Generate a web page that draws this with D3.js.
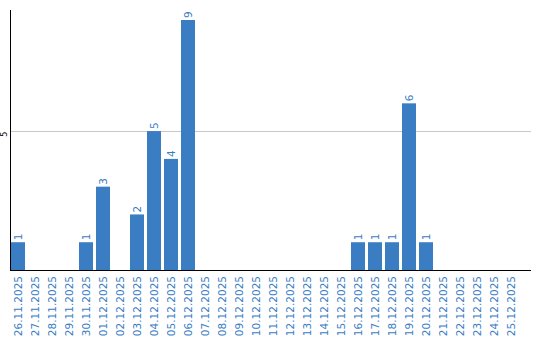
<!DOCTYPE html>
<html><head><meta charset="utf-8">
<script src="https://cdn.jsdelivr.net/npm/d3@7"></script>
<style>body{margin:0;background:#fff}svg{display:block}</style>
</head><body>
<script>
const categories = ["26.11.2025","27.11.2025","28.11.2025","29.11.2025","30.11.2025","01.12.2025","02.12.2025","03.12.2025","04.12.2025","05.12.2025","06.12.2025","07.12.2025","08.12.2025","09.12.2025","10.12.2025","11.12.2025","12.12.2025","13.12.2025","14.12.2025","15.12.2025","16.12.2025","17.12.2025","18.12.2025","19.12.2025","20.12.2025","21.12.2025","22.12.2025","23.12.2025","24.12.2025","25.12.2025"];
const values = [1,0,0,0,1,3,0,2,5,4,9,0,0,0,0,0,0,0,0,0,1,1,1,6,1,0,0,0,0,0];
const yTicks = [5];

const W = 540, H = 340;
const color = "#3a7dc3";
const svg = d3.select("body").append("svg").attr("width", W).attr("height", H);

const x = d3.scaleBand().domain(categories).range([11, 518]).paddingInner(3/17).paddingOuter(0);
const y = d3.scaleLinear().domain([0, 9.36]).range([270, 10]);

const data = values.map((v,i)=>({c:categories[i], v})).filter(d => d.v > 0);

// gridlines
svg.append("g").selectAll("line").data(yTicks).join("line")
  .attr("x1", 10).attr("x2", 531)
  .attr("y1", d => Math.round(y(d)) + 0.5).attr("y2", d => Math.round(y(d)) + 0.5)
  .attr("stroke", "#c8c8c8").attr("stroke-width", 1);

// bars
svg.append("g").selectAll("rect").data(data).join("rect")
  .attr("x", d => x(d.c)).attr("width", x.bandwidth())
  .attr("y", d => y(d.v)).attr("height", d => y(0) - y(d.v))
  .attr("fill", color);

// value labels
svg.append("g").selectAll("text").data(data).join("text")
  .attr("transform", d => `translate(${x(d.c) + x.bandwidth()/2 + 4},${y(d.v) - 2}) rotate(-90)`)
  .attr("font-family", "DejaVu Sans, Verdana, sans-serif").attr("font-size", 10.5)
  .attr("fill", color).attr("text-anchor", "start")
  .text(d => d.v);

// x axis
const xAxis = svg.append("g").attr("transform", "translate(0,270)");
xAxis.append("line").attr("x1", 10).attr("x2", 531).attr("y1", 0.5).attr("y2", 0.5).attr("stroke", "#000");
xAxis.selectAll("text").data(categories).join("text")
  .attr("transform", d => `translate(${x(d) + x.bandwidth()/2 + 4},6) rotate(-90)`)
  .attr("font-family", "DejaVu Sans, Verdana, sans-serif").attr("font-size", 10.5)
  .attr("fill", color).attr("text-anchor", "end")
  .text(d => d);

// y axis
const yAxis = svg.append("g");
yAxis.append("line").attr("x1", 10.5).attr("x2", 10.5).attr("y1", y.range()[1]).attr("y2", y(0)).attr("stroke", "#000");
yAxis.selectAll("text").data(yTicks).join("text")
  .attr("transform", d => `translate(7,${y(d) + 3}) rotate(-90)`)
  .attr("font-family", "DejaVu Sans, Verdana, sans-serif").attr("font-size", 8)
  .attr("fill", "#000").attr("text-anchor", "middle")
  .text(d => d);
</script>
</body></html>
